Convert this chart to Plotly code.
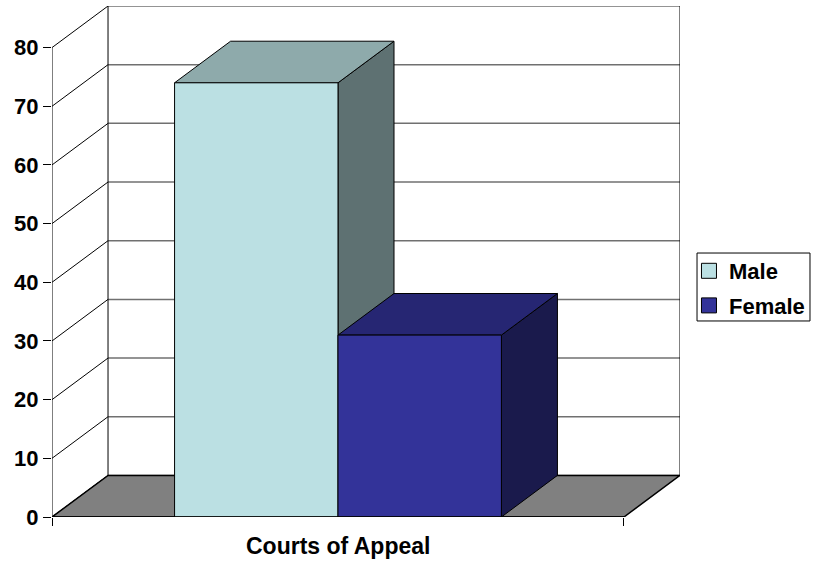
import plotly.graph_objects as go

# ---- data ----
categories = ["Courts of Appeal"]
series_names = ["Male", "Female"]
series_values = [74, 31]
tick_values = [0, 10, 20, 30, 40, 50, 60, 70, 80]

front_colors = ["#BBE0E3", "#333399"]
top_colors = ["#8EAAAB", "#262673"]
side_colors = ["#5E7172", "#1A1A4C"]

# ---- geometry (3D oblique projection, in data units) ----
YMAX = 80
DX = 56 / 571.7            # depth offset along category axis
DY = 41.5 / 5.855          # depth offset along value axis
GAP = 1.5                  # gap width (150%)
BW = 1 / (len(series_values) + GAP)
X0 = GAP / 2 * BW

FONT = "Liberation Sans, Arial, sans-serif"
FS = 22

fig = go.Figure()


def poly(xs, ys, fill, color="black", width=1):
    fig.add_trace(go.Scatter(
        x=xs + [xs[0]], y=ys + [ys[0]], mode="lines", fill="toself",
        fillcolor=fill, line=dict(color=color, width=width),
        hoverinfo="skip", showlegend=False))


def line(xs, ys, color="black", width=1):
    fig.add_trace(go.Scatter(
        x=xs, y=ys, mode="lines", line=dict(color=color, width=width),
        hoverinfo="skip", showlegend=False))


# back wall gridlines and side wall diagonals
for v in tick_values:
    line([DX, 1 + DX], [v + DY, v + DY], color="#707070", width=1.5)
    line([0, DX], [v, v + DY], color="black", width=1)

# wall edges
line([DX, DX], [DY, YMAX + DY])
line([1 + DX, 1 + DX], [DY, YMAX + DY])

# floor
poly([0, 1, 1 + DX, DX], [0, 0, DY, DY], "#808080", width=1.5)

# front value axis line
line([0, 0], [0, YMAX])

# bars
for i, v in enumerate(series_values):
    x1 = X0 + i * BW
    x2 = x1 + BW
    # side
    poly([x2, x2 + DX, x2 + DX, x2], [0, DY, v + DY, v], side_colors[i])
    # top
    poly([x1, x2, x2 + DX, x1 + DX], [v, v, v + DY, v + DY], top_colors[i])
    # front
    poly([x1, x2, x2, x1], [0, 0, v, v], front_colors[i])

# front floor edge
line([0, 1], [0, 0], width=1.5)

# legend entries
for i, name in enumerate(series_names):
    fig.add_trace(go.Scatter(
        x=[None], y=[None], mode="markers", name=name,
        legendgroup=name,
        marker=dict(symbol="square", size=15, color=front_colors[i],
                    line=dict(color="black", width=1))))

# legend frame
fig.add_shape(type="rect", xref="paper", yref="paper",
              x0=1.0271, x1=1.2070, y0=0.3836, y1=0.5166,
              line=dict(color="black", width=1), fillcolor="white",
              layer="below")

fig.add_annotation(
    x=0.5, xref="x", y=0, yref="paper", yshift=-29,
    text=categories[0], showarrow=False, yanchor="middle",
    font=dict(family=FONT, size=23, color="black", weight="bold"))

fig.update_layout(
    width=821, height=563,
    margin=dict(l=52, r=141, t=6, b=46, autoexpand=False),
    paper_bgcolor="white", plot_bgcolor="white",
    xaxis=dict(range=[0, 1 + DX], showgrid=False, zeroline=False,
               showline=False, tickvals=[0, 1], ticks="outside",
               ticklen=8, tickcolor="black", tickwidth=1,
               showticklabels=False, fixedrange=True),
    yaxis=dict(range=[0, YMAX + DY], showgrid=False, zeroline=False,
               showline=False, tickvals=tick_values, ticks="outside",
               ticklen=8, tickcolor="black", tickwidth=1,
               tickfont=dict(family=FONT, size=FS, color="black",
                             weight="bold"), fixedrange=True),
    legend=dict(x=1.0143, y=0.5225, xanchor="left", yanchor="top",
                bgcolor="rgba(0,0,0,0)", borderwidth=0,
                font=dict(family=FONT, size=FS, color="black",
                          weight="bold"),
                traceorder="grouped", tracegroupgap=3,
                itemsizing="trace"),
    showlegend=True,
)

fig.write_html("out.html",
               config={"displayModeBar": False},
               post_script="document.body.style.margin='0';")
